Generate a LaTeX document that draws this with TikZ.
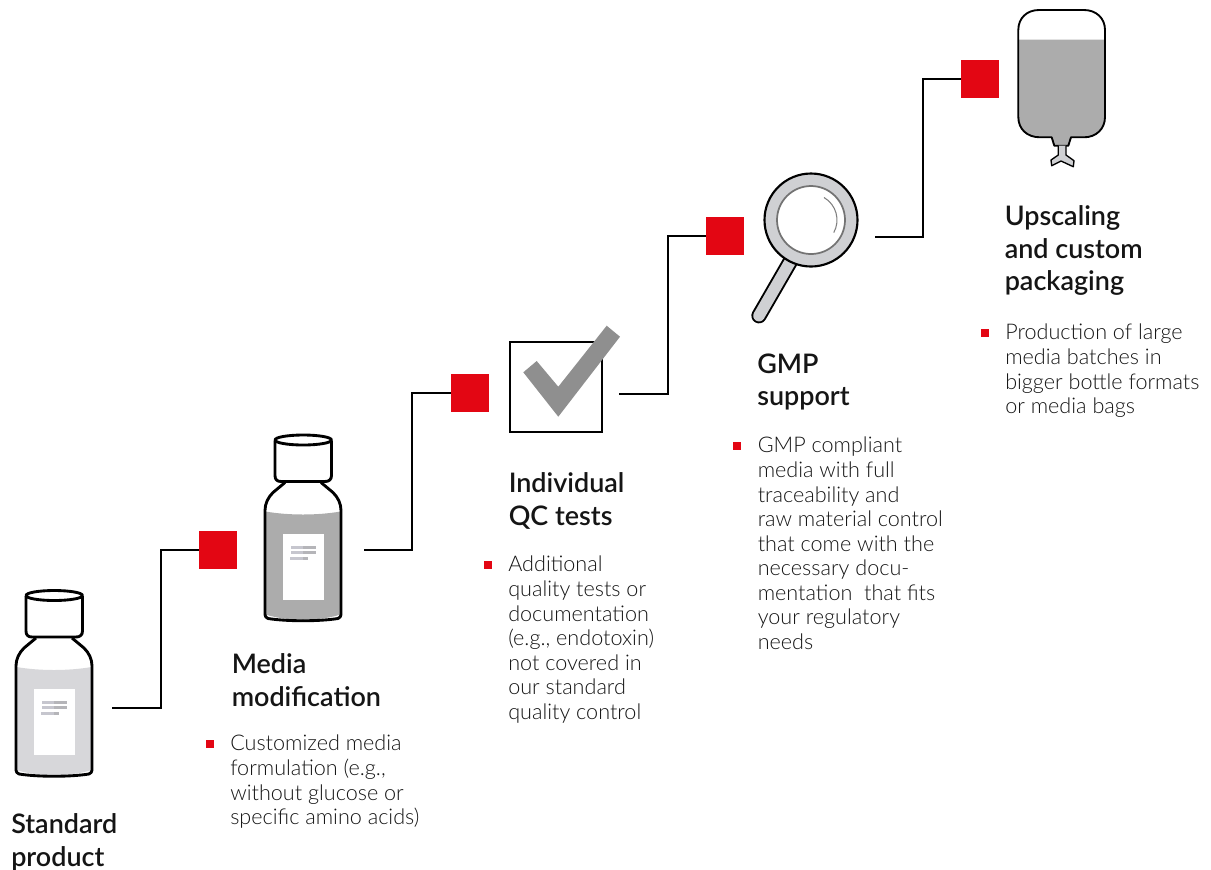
\documentclass[tikz,border=0pt]{standalone}
\usepackage{fontspec}
\newfontfamily\headf{Lato}[UprightFont=* Semibold]
\newfontfamily\bodyf{Lato}[UprightFont=* Light]
\definecolor{rd}{HTML}{E30613}
\definecolor{lightliq}{HTML}{D7D7DA}
\definecolor{darkliq}{HTML}{ACACAC}
\definecolor{txt}{HTML}{151515}
\definecolor{ringg}{HTML}{CFD0D3}
\definecolor{lab}{HTML}{C6C6CE}
\tikzset{
 redsq/.style={fill=rd,draw=none,minimum size=28.5pt,inner sep=0pt},
 bulletsq/.style={fill=rd,draw=none,minimum size=6.6pt,inner sep=0pt},
 conn/.style={line width=2.15pt,black,line join=miter},
 outl/.style={line width=2.15pt,black,line join=round},
 head/.style={anchor=north west,inner sep=0pt,align=left,text=txt,font=\headf\fontsize{20.2}{24.4}\selectfont},
 body/.style={anchor=north west,inner sep=0pt,align=left,text=txt,font=\bodyf\fontsize{16.2}{18.4}\selectfont},
 pics/bottle/.style={code={
  \fill[#1] (16.5,667) .. controls (40,671) and (68,671) .. (91.5,667) -- (91.5,770) .. controls (70,777) and (38,777) .. (16.5,770) -- cycle;
  \fill[white] (34,689) rectangle (75,755);
  \fill[lab] (42,701) rectangle (67,704);
  \fill[lab] (42,706) rectangle (67,709);
  \fill[lab] (41,712) rectangle (59,715);
  \fill[black!35,opacity=.5] (54,701) rectangle (67,704);
  \fill[black!35,opacity=.5] (54,706) rectangle (67,709);
  \fill[black!35,opacity=.5] (54,712) rectangle (59,715);
  \draw[outl] (36,638) -- (24,648) .. controls (19,653) and (16,659) .. (16,666) -- (16,770) .. controls (16,772) and (17,773) .. (19,774) .. controls (38,777) and (70,777) .. (89,774) .. controls (91,773) and (92,772) .. (92,770) -- (92,666) .. controls (92,659) and (89,653) .. (84,648) -- (72,638);
  \draw[outl] (26,596) -- (26,631) .. controls (26,635) and (28,637) .. (32,637) -- (76,637) .. controls (80,637) and (82.5,635) .. (82.5,631) -- (82.5,596);
  \draw[outl] (54.25,595.5) ellipse [x radius=28.25,y radius=5];
 }}
}
\begin{document}
\begin{tikzpicture}[x=0.75pt,y=-0.75pt]
\useasboundingbox (0,0) rectangle (1211,869);
% bottles
\pic {bottle=lightliq};
\pic at (249,-155.5) {bottle=darkliq};
% checkbox
\draw[line width=2.15pt,black] (510,342) rectangle (602,432);
\fill[black!44] (523.3,372.3) -- (536.7,361) -- (558.3,386.7) -- (606.7,325.7) -- (620,336.7) -- (558.3,416.7) -- cycle;
% magnifier
\draw[line width=11.5pt,black,line cap=round] (790,262) -- (759,315.7);
\draw[line width=8.6pt,ringg,line cap=round] (790,262) -- (759,315.7);
\draw[line width=1.6pt,black,fill=ringg] (811,220) circle [radius=46.5];
\draw[line width=1.3pt,black!55,fill=white] (811,220) circle [radius=34];
\draw[line width=.8pt,black!50] (824,197.5) arc [start angle=-60,end angle=29,radius=26];
% bag
\fill[darkliq] (1018.3,39.5) -- (1105,39.5) -- (1105,117) .. controls (1105,129) and (1096,137.3) .. (1084,137.3) -- (1071,137.3) -- (1068.3,145.7) -- (1054.3,145.7) -- (1051.7,137.3) -- (1040,137.3) .. controls (1027,137.3) and (1018.3,129) .. (1018.3,117) -- cycle;
\draw[line width=1.4pt,black,line join=round] (1018.3,117) -- (1018.3,30) .. controls (1018.3,18) and (1027,10) .. (1039,10) -- (1084,10) .. controls (1096,10) and (1105,18) .. (1105,30) -- (1105,117) .. controls (1105,129) and (1096,137.3) .. (1084,137.3) -- (1071,137.3) -- (1068.3,145.7) -- (1054.3,145.7) -- (1051.7,137.3) -- (1040,137.3) .. controls (1027,137.3) and (1018.3,129) .. (1018.3,117) -- cycle;
\draw[line width=1pt,black,fill=ringg,line join=round] (1058.3,145.7) -- (1058.3,155) -- (1051,160) -- (1051.7,165.7) -- (1061,161) -- (1073.3,166.7) -- (1074,160.7) -- (1066,155) -- (1066,145.7);
% red squares
\node[redsq] (r1) at (218,550) {};
\node[redsq] (r2) at (470,393) {};
\node[redsq] (r3) at (725,236) {};
\node[redsq] (r4) at (980,79) {};
% connector ends
\coordinate (s1) at (112,708); \coordinate (t1) at (161,708);
\coordinate (s2) at (364,550); \coordinate (t2) at (412,550);
\coordinate (s3) at (619,394); \coordinate (t3) at (668,394);
\coordinate (s4) at (875,237); \coordinate (t4) at (923,237);
\draw[conn] (s1) -- (t1) |- (r1.west);
\draw[conn] (s2) -- (t2) |- (r2.west);
\draw[conn] (s3) -- (t3) |- (r3.west);
\draw[conn] (s4) -- (t4) |- (r4.west);
% headings
\node[head] (h1) at (11,813.5) {Standard\\product};
\node[head] (h2) at (231.5,653.5) {Media\\modification};
\node[head] (h3) at (508.5,472.5) {Individual\\QC tests};
\node[head] (h4) at (757,353.5) {GMP\\support};
\node[head] (h5) at (1004.5,205.5) {Upscaling\\and custom\\packaging};
% bullets
\node[bulletsq] (b2) at (210,744) {};
\node[bulletsq] (b3) at (488,565) {};
\node[bulletsq] (b4) at (737,446) {};
\node[bulletsq] (b5) at (985,333) {};
% body text
\node[body] (t2x) at (230,735) {Customized media\\formulation (e.g.,\\without glucose or\\specific amino acids)};
\node[body] (t3x) at (508,556) {Additional\\quality tests or\\documentation\\(e.g., endotoxin)\\not covered in\\our standard\\quality control};
\node[body] (t4x) at (757.5,437) {GMP compliant\\media with full\\traceability and\\raw material control\\that come with the\\necessary docu-\\mentation\ \ that fits\\your regulatory\\needs};
\node[body] (t5x) at (1005,324) {Production of large\\media batches in\\bigger bottle formats\\or media bags};
\end{tikzpicture}
\end{document}
